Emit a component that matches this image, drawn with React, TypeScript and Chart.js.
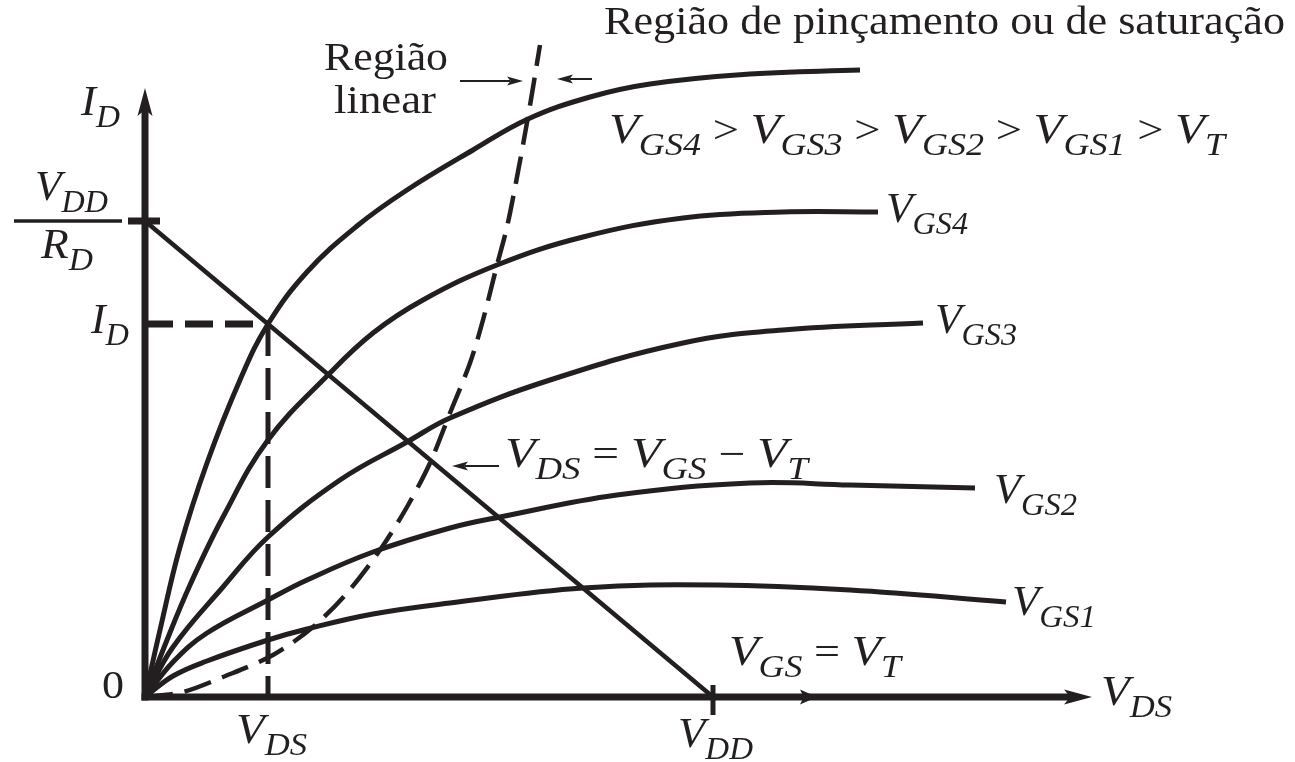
import { useEffect, useRef } from "react";
import { Chart, registerables } from "chart.js";

Chart.register(...registerables);

const INK = "#231f20";
const FAMILY = '"Liberation Serif", "Times New Roman", Times, serif';

// Supply and load line (arbitrary units: V_DS along x, I_D along y)
const vdd = 5.68;
const idMax = 4.76; // V_DD / R_D
// Operating point where the load line meets the top curve
const vdsOp = 1.23;
const idOp = 3.73;

// Output characteristics, one curve per gate voltage (top curve first)
const vdsTop = [0, 0.15, 0.35, 0.62, 0.95, 1.23, 1.62, 2.12, 2.62, 3.28, 3.83, 4.45, 5.05, 6.05, 7.15];
const idTop = [0, 0.67, 1.5, 2.34, 3.17, 3.73, 4.25, 4.71, 5.07, 5.47, 5.78, 6.0, 6.13, 6.23, 6.27];

const vdsGs4 = [0, 0.2, 0.45, 0.78, 1.23, 1.83, 2.28, 2.78, 3.52, 4.38, 5.38, 6.38, 7.33];
const idGs4 = [0, 0.52, 1.12, 1.8, 2.57, 3.22, 3.64, 3.97, 4.32, 4.6, 4.79, 4.85, 4.85];

const vdsGs3 = [0, 0.28, 0.78, 1.23, 1.95, 2.62, 3.05, 4.05, 5.38, 6.38, 7.78];
const idGs3 = [0, 0.5, 1.1, 1.6, 2.17, 2.55, 2.79, 3.17, 3.54, 3.67, 3.74];

const vdsGs2 = [0, 0.28, 0.62, 1.23, 1.62, 2.28, 3.05, 3.55, 4.72, 6.05, 7.05, 8.3];
const idGs2 = [0, 0.35, 0.64, 0.97, 1.17, 1.45, 1.69, 1.8, 2.02, 2.14, 2.12, 2.09];

const vdsGs1 = [0, 0.28, 0.62, 1.23, 1.62, 2.28, 3.05, 4.38, 5.72, 7.05, 8.61];
const idGs1 = [0, 0.21, 0.36, 0.57, 0.68, 0.83, 0.94, 1.09, 1.12, 1.07, 0.95];

// Boundary V_DS = V_GS - V_T between the linear and saturation regions
const vdsPinch = [0, 0.38, 0.78, 1.28, 1.68, 2.02, 2.35, 2.62, 2.85, 3.05, 3.25, 3.38, 3.52, 3.62, 3.72, 3.83, 3.95];
const idPinch = [0, 0.05, 0.2, 0.42, 0.7, 1.04, 1.47, 1.9, 2.34, 2.84, 3.34, 3.77, 4.32, 4.7, 5.2, 5.8, 6.52];

// Axis extents and the V_GS = V_T marker on the V_DS axis
const X_AXIS_END = 9.47;
const Y_AXIS_END = 6.09;
const VT_ARROW_AT = 6.72;

type Kind = "m" | "s" | "r";
type Seg = [string, Kind];

const fontFor = (k: Kind) =>
  k === "m" ? `italic 42px ${FAMILY}` : k === "s" ? `italic 31px ${FAMILY}` : `40px ${FAMILY}`;

const sub = (main: string, s: string): Seg[] => [
  [main, "m"],
  [s, "s"],
];

// label: segments, left x, baseline y, overall width
const labels: [Seg[], number, number, number | null][] = [
  [[["Região de pinçamento ou de saturação", "r"]], 604, 34, 681],
  [[["Região", "r"]], 324, 70, 124],
  [[["linear", "r"]], 334, 113, 102],
  [
    [
      ...sub("V", "GS4"), [" > ", "r"],
      ...sub("V", "GS3"), [" > ", "r"],
      ...sub("V", "GS2"), [" > ", "r"],
      ...sub("V", "GS1"), [" > ", "r"],
      ...sub("V", "T"),
    ],
    609, 143, 616,
  ],
  [sub("V", "GS4"), 886, 222, 82],
  [sub("V", "GS3"), 935, 333, 82],
  [sub("V", "GS2"), 994, 503, 83],
  [sub("V", "GS1"), 1012, 615, 84],
  [[...sub("V", "DS"), [" = ", "r"], ...sub("V", "GS"), [" − ", "r"], ...sub("V", "T")], 505, 467, 303],
  [[...sub("V", "GS"), [" = ", "r"], ...sub("V", "T")], 729, 665, 172],
  [sub("V", "DS"), 1101, 705, 71],
  [sub("V", "DS"), 236, 743, 71],
  [sub("V", "DD"), 678, 747, 75],
  [[["0", "r"]], 102, 698, null],
  [sub("I", "D"), 81, 115, 39],
  [sub("I", "D"), 91, 333, 38],
  [sub("V", "DD"), 35, 200, 73],
  [sub("R", "D"), 41, 258, 52],
];

function drawRich(ctx: CanvasRenderingContext2D, segs: Seg[], x: number, y: number, width: number | null) {
  const widths = segs.map(([t, k]) => {
    ctx.font = fontFor(k);
    return ctx.measureText(t).width;
  });
  const total = widths.reduce((a, b) => a + b, 0);
  const sx = width ? width / total : 1.1;
  ctx.save();
  ctx.translate(x, y);
  ctx.scale(sx, 1);
  let cx = 0;
  segs.forEach(([t, k], i) => {
    ctx.font = fontFor(k);
    ctx.fillText(t, cx, k === "s" ? 12 : 0);
    cx += widths[i];
  });
  ctx.restore();
}

function arrowHead(ctx: CanvasRenderingContext2D, tx: number, ty: number, dx: number, dy: number, len: number, hw: number) {
  const bx = tx - dx * len;
  const by = ty - dy * len;
  const nx = -dy;
  const ny = dx;
  ctx.beginPath();
  ctx.moveTo(tx, ty);
  ctx.lineTo(bx + nx * hw, by + ny * hw);
  ctx.lineTo(bx + dx * len * 0.22, by + dy * len * 0.22);
  ctx.lineTo(bx - nx * hw, by - ny * hw);
  ctx.closePath();
  ctx.fill();
}

function segment(ctx: CanvasRenderingContext2D, x1: number, y1: number, x2: number, y2: number) {
  ctx.beginPath();
  ctx.moveTo(x1, y1);
  ctx.lineTo(x2, y2);
  ctx.stroke();
}

const overlay = {
  id: "mosfetOverlay",
  afterDatasetsDraw(chart: Chart) {
    const ctx = chart.ctx;
    const xs = chart.scales.x;
    const ys = chart.scales.y;
    const px = (v: number) => xs.getPixelForValue(v);
    const py = (v: number) => ys.getPixelForValue(v);
    const ox = px(0);
    const oy = py(0);

    ctx.save();
    ctx.strokeStyle = INK;
    ctx.fillStyle = INK;
    ctx.lineCap = "butt";

    // axes with arrowheads
    ctx.lineWidth = 7;
    segment(ctx, ox, oy + 3.5, ox, py(Y_AXIS_END) + 20);
    segment(ctx, ox - 3.5, oy, px(X_AXIS_END) - 20, oy);
    arrowHead(ctx, ox, py(Y_AXIS_END), 0, -1, 28, 7.5);
    arrowHead(ctx, px(X_AXIS_END), oy, 1, 0, 28, 7.5);
    arrowHead(ctx, px(VT_ARROW_AT), oy, 1, 0, 17, 7.5);

    // ticks for V_DD/R_D and V_DD
    segment(ctx, ox - 17, py(idMax), ox + 15, py(idMax));
    ctx.lineWidth = 5;
    segment(ctx, px(vdd), oy - 12, px(vdd), oy + 18);

    // fraction bar of V_DD / R_D
    ctx.lineWidth = 3.5;
    segment(ctx, 14, py(idMax), 122, py(idMax));

    // pointer arrows for the region labels and the boundary curve
    ctx.lineWidth = 2;
    segment(ctx, 460, 81, 510, 81);
    arrowHead(ctx, 523, 81, 1, 0, 16, 4.5);
    segment(ctx, 592, 79, 570, 79);
    arrowHead(ctx, 557, 79, -1, 0, 16, 4.5);
    segment(ctx, 499, 466, 465, 466);
    arrowHead(ctx, 452, 466, -1, 0, 16, 4.5);

    // text
    ctx.textBaseline = "alphabetic";
    ctx.textAlign = "left";
    labels.forEach(([segs, x, y, w]) => drawRich(ctx, segs, x, y, w));

    ctx.restore();
  },
};

const pts = (xs: number[], ys: number[]) => xs.map((v, i) => ({ x: v, y: ys[i] }));

const curveStyle = {
  borderColor: INK,
  borderWidth: 5,
  borderCapStyle: "butt" as const,
  borderJoinStyle: "round" as const,
  tension: 0.4,
  pointRadius: 0,
  fill: false,
};

const straightStyle = {
  borderColor: INK,
  borderCapStyle: "butt" as const,
  tension: 0,
  pointRadius: 0,
  fill: false,
};

export default function App() {
  const ref = useRef<HTMLCanvasElement>(null);

  useEffect(() => {
    document.body.style.margin = "0";
    const canvas = ref.current;
    if (!canvas) return;
    let alive = true;
    const chart = new Chart(canvas, {
      type: "line",
      data: {
        datasets: [
          { label: "top", data: pts(vdsTop, idTop), ...curveStyle },
          { label: "VGS4", data: pts(vdsGs4, idGs4), ...curveStyle },
          { label: "VGS3", data: pts(vdsGs3, idGs3), ...curveStyle },
          { label: "VGS2", data: pts(vdsGs2, idGs2), ...curveStyle },
          { label: "VGS1", data: pts(vdsGs1, idGs1), ...curveStyle },
          { label: "VDS = VGS - VT", data: pts(vdsPinch, idPinch), ...curveStyle, tension: 0.3, borderWidth: 4.5, borderDash: [28, 12] },
          { label: "load", data: [{ x: 0, y: idMax }, { x: vdd, y: 0 }], ...straightStyle, borderWidth: 4.5 },
          { label: "ID", data: [{ x: 0, y: idOp }, { x: vdsOp, y: idOp }], ...straightStyle, borderWidth: 7, borderDash: [28, 12] },
          { label: "VDS", data: [{ x: vdsOp, y: idOp }, { x: vdsOp, y: 0 }], ...straightStyle, borderWidth: 5, borderDash: [32, 12] },
        ],
      },
      options: {
        animation: false,
        responsive: false,
        devicePixelRatio: 1,
        events: [],
        layout: { padding: 0 },
        plugins: {
          legend: { display: false },
          tooltip: { enabled: false },
          colors: { enabled: false },
        },
        scales: {
          x: { type: "linear", min: -1.45, max: 11.5, display: false },
          y: { type: "linear", min: -0.65, max: 6.97, display: false },
        },
      },
      plugins: [overlay],
    });
    // redraw once the serif faces are ready
    Promise.all([
      document.fonts.load(`40px ${FAMILY}`, "Região"),
      document.fonts.load(`italic 42px ${FAMILY}`, "V"),
    ])
      .then(() => {
        if (alive) chart.draw();
      })
      .catch(() => undefined);
    return () => {
      alive = false;
      chart.destroy();
    };
  }, []);

  return (
    <div style={{ width: 1295, height: 762, background: "#fff" }}>
      <canvas ref={ref} width={1295} height={762} style={{ display: "block", width: 1295, height: 762 }} />
    </div>
  );
}
